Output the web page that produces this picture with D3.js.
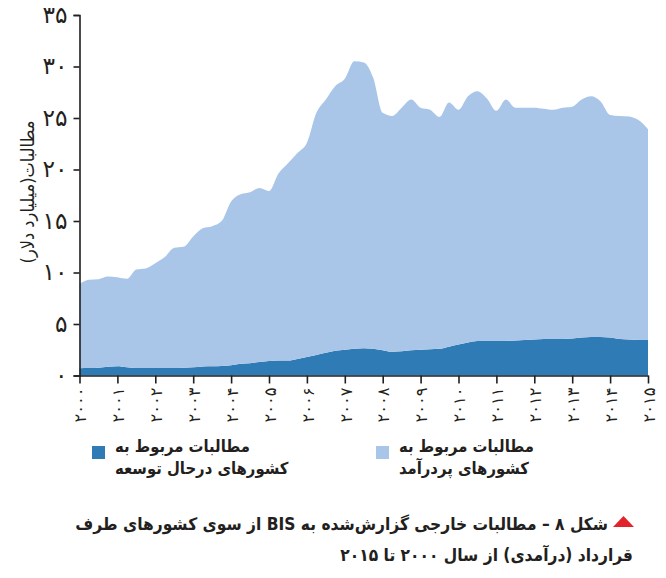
<!DOCTYPE html>
<html>
<head>
<meta charset="utf-8">
<title>مطالبات خارجی</title>
<script src="https://cdn.jsdelivr.net/npm/d3@7/dist/d3.min.js"></script>
<style>
  body { margin: 0; background: #fff; }
  text { font-family: "DejaVu Sans", sans-serif; fill: #231f20; }
  text.narrow { font-family: "DejaVu Sans Condensed", "DejaVu Sans", sans-serif; }
</style>
</head>
<body>
<div id="chart"></div>
<script>
// quarterly claims, billion dollars, 2000Q1 .. 2015Q1
const developing = [0.70, 0.72, 0.75, 0.85, 0.90, 0.80, 0.72, 0.72,
  0.72, 0.72, 0.72, 0.75, 0.80, 0.88, 0.90, 0.92,
  1.00, 1.15, 1.20, 1.30, 1.40, 1.45, 1.45, 1.60,
  1.80, 2.00, 2.20, 2.40, 2.50, 2.60, 2.65, 2.60,
  2.45, 2.30, 2.35, 2.45, 2.50, 2.55, 2.60, 2.80,
  3.00, 3.20, 3.35, 3.35, 3.35, 3.35, 3.40, 3.45,
  3.50, 3.55, 3.55, 3.55, 3.60, 3.70, 3.75, 3.75,
  3.70, 3.55, 3.50, 3.45, 3.45];
const developed = [8.20, 8.58, 8.60, 8.75, 8.65, 8.60, 9.58, 9.68,
  10.18, 10.78, 11.68, 11.75, 12.70, 13.42, 13.60, 14.08,
  15.90, 16.45, 16.60, 16.90, 16.50, 18.15, 19.15, 20.00,
  20.80, 23.50, 24.60, 25.70, 26.30, 27.90, 27.75, 26.30,
  23.05, 22.90, 23.65, 24.35, 23.50, 23.25, 22.50, 23.70,
  22.80, 23.90, 24.25, 23.55, 22.35, 23.45, 22.60, 22.55,
  22.50, 22.35, 22.25, 22.45, 22.50, 23.10, 23.35, 22.85,
  21.60, 21.65, 21.65, 21.35, 20.45];

const years = [2000, 2001, 2002, 2003, 2004, 2005, 2006, 2007,
  2008, 2009, 2010, 2011, 2012, 2013, 2014, 2015];
const yearLabels = ["۲۰۰۰", "۲۰۰۱", "۲۰۰۲", "۲۰۰۳", "۲۰۰۴", "۲۰۰۵", "۲۰۰۶", "۲۰۰۷",
  "۲۰۰۸", "۲۰۰۹", "۲۰۱۰", "۲۰۱۱", "۲۰۱۲", "۲۰۱۳", "۲۰۱۴", "۲۰۱۵"];
const yTicks = [0, 5, 10, 15, 20, 25, 30, 35];
const yTickLabels = ["۰", "۵", "۱۰", "۱۵", "۲۰", "۲۵", "۳۰", "۳۵"];

const seriesNames = ["مطالبات مربوط به|کشورهای درحال توسعه", "مطالبات مربوط به|کشورهای پردرآمد"];
const colors = ["#2f7bb5", "#a9c6e8"];
const yTitle = "مطالبات(میلیارد دلار)";
const caption = ["شکل ۸ – مطالبات خارجی گزارش‌شده به BIS از سوی کشورهای طرف",
  "قرارداد (درآمدی) از سال ۲۰۰۰ تا ۲۰۱۵"];

const W = 666, H = 578;
const svg = d3.select("#chart").append("svg")
  .attr("width", W).attr("height", H);

// scale a text's font so that it is `target` px long
function fitSize(sel, base, target) {
  sel.style("font-size", base + "px");
  const len = sel.node().getComputedTextLength();
  const s = base * target / len;
  sel.style("font-size", s + "px");
  return s;
}

// table for the stack
const rows = developing.map((d, i) => ({
  t: 2000 + i / 4,
  developing: d,
  developed: developed[i]
}));

const x = d3.scaleLinear().domain([2000, 2015]).range([79.5, 648]);
const y = d3.scaleLinear().domain([0, 35]).range([375.5, 15]);

const stacked = d3.stack().keys(["developing", "developed"])(rows);

const area = d3.area()
  .x(d => x(d.data.t))
  .y0(d => y(d[0]))
  .y1(d => y(d[1]))
  .curve(d3.curveMonotoneX);

svg.selectAll("path.layer")
  .data(stacked)
  .enter()
  .append("path")
  .attr("class", "layer")
  .attr("d", area)
  .attr("fill", (d, i) => colors[i]);

// y axis
const yAxis = svg.append("g")
  .attr("transform", "translate(79.5,0)")
  .call(d3.axisLeft(y).tickValues(yTicks).tickSize(6).tickPadding(6)
    .tickFormat((d, i) => yTickLabels[i]));
yAxis.selectAll("line, path").attr("stroke", "#231f20").attr("stroke-width", 1.6);
const yLab = yAxis.selectAll("text").attr("fill", "#231f20");
const ySize = fitSize(yAxis.selectAll("text").filter((d, i) => i === 7), 20, 25);
yLab.style("font-size", ySize + "px");

// x axis
const xAxis = svg.append("g")
  .attr("transform", "translate(0,375.5)")
  .call(d3.axisBottom(x).tickValues(years).tickSize(8).tickSizeOuter(0)
    .tickFormat((d, i) => yearLabels[i]));
xAxis.selectAll("line, path").attr("stroke", "#231f20").attr("stroke-width", 1.6);
const xLab = xAxis.selectAll("text")
  .attr("fill", "#231f20")
  .attr("text-anchor", "end")
  .attr("transform", "rotate(-90)")
  .attr("x", -12)
  .attr("y", 0)
  .attr("dy", "0.38em");
const xSize = fitSize(xAxis.selectAll("text").filter((d, i) => i === 0), 14, 35);
xLab.style("font-size", xSize + "px");

// y title
const yt = svg.append("text")
  .attr("class", "narrow")
  .attr("transform", "translate(34,192) rotate(-90)")
  .attr("direction", "rtl")
  .attr("text-anchor", "middle")
  .text(yTitle);
fitSize(yt, 16, 143);

// legend
const legendX = [92, 376];
seriesNames.forEach((name, i) => {
  const g = svg.append("g");
  g.append("rect")
    .attr("x", legendX[i]).attr("y", 446)
    .attr("width", 13).attr("height", 13)
    .attr("fill", colors[i]);
  const lines = name.split("|").map((line, j) =>
    g.append("text")
      .attr("class", "narrow")
      .attr("x", legendX[i] + 23)
      .attr("y", 452 + j * 22)
      .attr("text-anchor", "start")
      .style("font-weight", "bold")
      .text(line));
  const s = fitSize(lines[0], 17, 135);
  lines.forEach(t => t.style("font-size", s + "px"));
});

// caption
svg.append("path")
  .attr("d", "M613,527 L634,527 L623.5,516 Z")
  .attr("fill", "#e3232b");
const capLines = caption.map((line, j) =>
  svg.append("text")
    .attr("class", "narrow")
    .attr("x", j === 0 ? 608 : 633)
    .attr("y", 530 + j * 31)
    .attr("direction", "rtl")
    .attr("text-anchor", "start")
    .style("font-weight", "bold")
    .text(line));
const cs = fitSize(capLines[0], 19, 533);
capLines[1].style("font-size", cs + "px");
</script>
</body>
</html>
